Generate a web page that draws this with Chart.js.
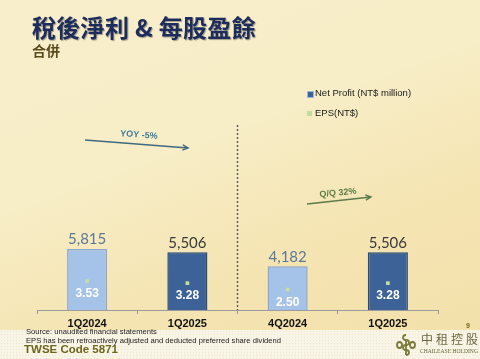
<!DOCTYPE html>
<html><head><meta charset="utf-8">
<script src="https://cdn.jsdelivr.net/npm/chart.js@4/dist/chart.umd.min.js"></script>
<style>
html,body{margin:0;padding:0;}
body{width:480px;height:359px;overflow:hidden;position:relative;font-family:"Liberation Sans",Arial,sans-serif;
background:linear-gradient(160deg,#f8eecb 0%,#f7edc6 40%,#f5e5b4 65%,#f2e0a8 100%);}
#wrap{position:absolute;left:0;top:0;width:480px;height:359px;}
.t{position:absolute;white-space:nowrap;}
#title{left:32px;top:9px;font:bold 24px "Noto Sans CJK TC",sans-serif;color:#1d2c5e;text-shadow:1px 1px 1px rgba(0,0,0,0.35);letter-spacing:0.3px;}
#sub{left:32px;top:40px;font:bold 14px "Noto Sans CJK TC",sans-serif;color:#5b4c1e;}
.leg{font-size:9.5px;color:#1a1a1a;}
.mk{position:absolute;width:5px;height:5px;}
#band{position:absolute;left:0;top:330px;width:480px;height:29px;background:#f9f5e6;
background-image:radial-gradient(rgba(200,190,150,0.25) 0.6px,transparent 0.8px);background-size:3px 3px;}
.fn{font-size:7.6px;color:#1a1a1a;}
</style></head><body>
<div id="wrap"><canvas id="c" width="480" height="359"></canvas></div>
<div class="t" id="title">稅後淨利 &amp; 每股盈餘</div>
<div class="t" id="sub">合併</div>
<div class="mk" style="left:307px;top:91px;background:#3b6197;border:0.5px solid #9fb8d8;"></div>
<div class="t leg" style="left:315px;top:87px;">Net Profit (NT$ million)</div>
<div class="mk" style="left:307px;top:111px;background:#c2dc9e;"></div>
<div class="t leg" style="left:315px;top:107px;">EPS(NT$)</div>
<div id="band"></div>
<div class="t fn" style="left:26px;top:327px;">Source: unaudited financial statements</div>
<div class="t fn" style="left:26px;top:336px;">EPS has been retroactively adjusted and deducted preferred share dividend</div>
<div class="t" style="left:24px;top:343px;font:bold 11.5px 'Liberation Sans',Arial,sans-serif;color:#6d6620;">TWSE Code 5871</div>
<div class="t" style="left:466px;top:322px;font:bold 7px 'Liberation Sans',Arial,sans-serif;color:#6d6620;">9</div>
<svg style="position:absolute;left:394px;top:333px" width="24" height="24" viewBox="0 0 24 24">
<g fill="none" stroke="#7b7a3a" stroke-width="1.8">
<path d="M12 2 C8 2 8 7 12 7 C16 7 16 12 12 12 C8 12 8 17 12 17 C16 17 16 22 12 22"/>
<path d="M12 7 L12 22"/>
<path d="M3 12 C3 8 8 8 8 12 C8 16 3 16 3 12 M16 12 C16 8 21 8 21 12 C21 16 16 16 16 12"/>
</g></svg>
<div class="t" style="left:421px;top:330px;font:12px 'Noto Sans CJK TC',sans-serif;color:#6a6842;letter-spacing:3px;">中租控股</div>
<div class="t" style="left:420px;top:348px;font:5.6px 'Liberation Serif',serif;color:#6a6842;">CHAILEASE HOLDING</div>
<script>
const categories = ['1Q2024','1Q2025','4Q2024','1Q2025'];
const netProfit = [5815, 5506, 4182, 5506];
const eps = [3.53, 3.28, 2.50, 3.28];
const barShade = ['light','dark','light','dark'];

const fill = {light:'#a5c2e8', dark:'#3c6298'};
const edge = {light:'#8aa7cf', dark:'#284a78'};
const valColor = {light:'#5a7898', dark:'#3a3a3a'};

const overlay = {
  id:'overlay',
  beforeDatasetsDraw(chart){
    const ctx = chart.ctx;
    const x = chart.scales.x;
    const sx = (x.getPixelForValue(1) + x.getPixelForValue(2)) / 2;
    ctx.save();
    ctx.strokeStyle = '#5a5a5a';
    ctx.lineWidth = 1.4;
    ctx.setLineDash([2,2]);
    ctx.beginPath(); ctx.moveTo(sx, 125); ctx.lineTo(sx, chart.chartArea.bottom); ctx.stroke();
    ctx.restore();
    function arrow(x1,y1,x2,y2,color){
      ctx.save();
      ctx.strokeStyle = color; ctx.lineWidth = 1.4;
      ctx.beginPath(); ctx.moveTo(x1,y1); ctx.lineTo(x2,y2); ctx.stroke();
      const a = Math.atan2(y2-y1,x2-x1);
      ctx.beginPath();
      ctx.moveTo(x2 - 6*Math.cos(a-0.45), y2 - 6*Math.sin(a-0.45));
      ctx.lineTo(x2,y2);
      ctx.lineTo(x2 - 6*Math.cos(a+0.45), y2 - 6*Math.sin(a+0.45));
      ctx.stroke();
      ctx.restore();
    }
    function rtext(txt,cx,cy,ang,color){
      ctx.save();
      ctx.translate(cx,cy); ctx.rotate(ang);
      ctx.font = 'bold 9px "Liberation Sans", Arial, sans-serif';
      ctx.fillStyle = color; ctx.textAlign='center'; ctx.textBaseline='middle';
      ctx.fillText(txt,0,0);
      ctx.restore();
    }
    arrow(85,140,188,148,'#3e6a80');
    rtext('YOY -5%',139,135,0.07,'#3b7b9a');
    arrow(307,204,371,197,'#5a7a4a');
    rtext('Q/Q 32%',338,193,-0.1,'#5d7d48');
  },
  afterDatasetsDraw(chart){
    const ctx = chart.ctx;
    const bars = chart.getDatasetMeta(0).data;
    const pts = chart.getDatasetMeta(1).data;
    ctx.save();
    ctx.textAlign = 'center';
    bars.forEach((b,i)=>{
      ctx.font = '15px Lato, "Open Sans", sans-serif';
      ctx.fillStyle = valColor[barShade[i]];
      ctx.textBaseline = 'bottom';
      ctx.fillText(netProfit[i].toLocaleString('en-US'), b.x, b.y - 2);
    });
    pts.forEach((p,i)=>{
      ctx.font = 'bold 12px "Liberation Sans", Arial, sans-serif';
      ctx.fillStyle = '#ffffff';
      ctx.textBaseline = 'middle';
      ctx.fillText(eps[i].toFixed(2), p.x, p.y + 13);
    });
    ctx.restore();
  }
};

new Chart(document.getElementById('c'), {
  data:{
    labels: categories,
    datasets:[
      {type:'bar', label:'Net Profit (NT$ million)', data: netProfit, yAxisID:'y', order:2,
       backgroundColor: barShade.map(s=>fill[s]), borderColor: barShade.map(s=>edge[s]),
       borderWidth:1.5, barPercentage:0.4, categoryPercentage:1},
      {type:'line', label:'EPS(NT$)', data: eps, yAxisID:'y1', order:1, showLine:false,
       pointStyle:'rect', pointRadius:2.6, pointBackgroundColor:'#c4df9f', pointBorderColor:'#c4df9f', pointBorderWidth:0}
    ]
  },
  options:{
    responsive:false, animation:false,
    layout:{padding:{left:37, right:42, top:48, bottom:0}},
    plugins:{legend:{display:false}, tooltip:{enabled:false}},
    scales:{
      x:{
        grid:{offset:true, drawOnChartArea:false, tickLength:4, color:'#9a9a9a'},
        border:{color:'#9a9a9a', width:1},
        ticks:{color:'#111', font:{family:'"Liberation Sans", Arial, sans-serif', size:11, weight:'bold'}, padding:3},
        afterFit(s){ s.height = 49; }
      },
      y:{display:false, min:0, max:25000},
      y1:{display:false, min:0, max:32, position:'right'}
    }
  },
  plugins:[overlay]
});
</script>
</body></html>
